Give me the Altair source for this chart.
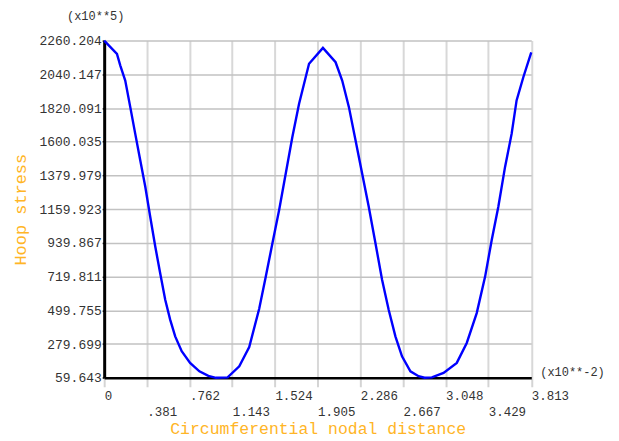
import altair as alt
import pandas as pd

# Curve (x in units of 1e-2, hoop stress in units of 1e5)
dist = [0.000, 0.114, 0.144, 0.188, 0.233, 0.277, 0.322, 0.367, 0.411, 0.456,
        0.500, 0.545, 0.589, 0.634, 0.692, 0.767, 0.850, 0.930, 0.998, 1.102,
        1.206, 1.295, 1.384, 1.443, 1.502, 1.562, 1.621, 1.680, 1.740, 1.829,
        1.953, 2.066, 2.125, 2.185, 2.244, 2.303, 2.362, 2.422, 2.481, 2.540,
        2.600, 2.659, 2.734, 2.807, 2.860, 2.926, 3.030, 3.148, 3.237, 3.326,
        3.401, 3.460, 3.519, 3.579, 3.638, 3.682, 3.742, 3.813]
stress = [2260.204, 2174, 2097, 1999, 1826, 1653, 1480, 1306, 1111, 916,
          742, 569, 439, 330, 233, 157, 102, 72, 59.643, 62,
          135, 260, 510, 720, 938, 1154, 1393, 1631, 1848, 2109,
          2213, 2119, 2000, 1826, 1610, 1393, 1176, 938, 699, 504,
          330, 200, 102, 70, 60, 62, 92, 157, 287, 482,
          720, 959, 1176, 1436, 1653, 1870, 2021, 2184]

x_ticks = [0, 0.381, 0.762, 1.143, 1.524, 1.905, 2.286, 2.667, 3.048, 3.429, 3.813]
x_labels = ["0", ".381", ".762", "1.143", "1.524", "1.905", "2.286", "2.667", "3.048", "3.429", "3.813"]
y_ticks = [59.643, 279.699, 499.755, 719.811, 939.867, 1159.923, 1379.979,
           1600.035, 1820.091, 2040.147, 2260.204]
x_title = "Circumferential nodal distance"
y_title = "Hoop stress"
y_mult = "(x10**5)"
x_mult = "(x10**-2)"

df = pd.DataFrame({"d": dist, "s": stress})

FONT = "Liberation Mono"
ORANGE = "#FFB526"

vals_js = "[" + ",".join(repr(v) for v in x_ticks) + "]"
labs_js = "[" + ",".join("'" + s + "'" for s in x_labels) + "]"
idx = f"indexof({vals_js}, datum.value)"
label_expr = f"{idx} % 2 == 1 ? ['', {labs_js}[{idx}]] : {labs_js}[{idx}]"

W, H = 428.5, 338.3

line = alt.Chart(df).mark_line(color="#0000FF", strokeWidth=2.4).encode(
    x=alt.X("d:Q",
            scale=alt.Scale(domain=[0, 3.813], nice=False, zero=False),
            axis=alt.Axis(values=x_ticks, labelExpr=label_expr, labelAlign="left",
                          labelBaseline="top", labelLineHeight=16, labelPadding=3,
                          labelOverlap=False, labelBound=False, labelFlush=False,
                          labelFont=FONT, labelFontSize=12.5, labelColor="#333333",
                          tickColor="#d4d4d4", tickWidth=2, tickSize=9,
                          gridColor="#d8d8d8", gridWidth=2,
                          domainColor="#000000", domainWidth=2.5,
                          title=x_title, titleFont=FONT, titleFontSize=16.5,
                          titleFontWeight="normal", titleColor=ORANGE,
                          titleY=51, titleBaseline="middle")),
    y=alt.Y("s:Q",
            scale=alt.Scale(domain=[59.643, 2260.204], nice=False, zero=False),
            axis=alt.Axis(values=y_ticks, format=".3f", labelAlign="right",
                          labelBaseline="middle", labelPadding=1,
                          labelOverlap=False, labelBound=False, labelFlush=False,
                          labelFont=FONT, labelFontSize=13, labelColor="#333333",
                          tickColor="#000000", tickWidth=1.5, tickSize=2,
                          gridColor="#c2c2c2", gridWidth=1.5,
                          domainColor="#000000", domainWidth=3,
                          title=y_title, titleFont=FONT, titleFontSize=17,
                          titleFontWeight="normal", titleColor=ORANGE,
                          titleX=-83.5, titleY=H / 2, titleAngle=-90,
                          titleBaseline="middle", titleAlign="center")),
)

ymult = alt.Chart(pd.DataFrame({"t": [y_mult]})).mark_text(
    font=FONT, fontSize=12, color="#333333", align="center", baseline="middle"
).encode(text="t:N", x=alt.value(-8.5), y=alt.value(-25))

xmult = alt.Chart(pd.DataFrame({"t": [x_mult]})).mark_text(
    font=FONT, fontSize=12, color="#333333", align="left", baseline="middle"
).encode(text="t:N", x=alt.value(437.5), y=alt.value(H - 6))

chart = alt.layer(line, ymult, xmult).properties(
    width=W, height=H,
    autosize=alt.AutoSizeParams(type="none"),
    padding={"left": 96.5, "top": 32, "right": 80, "bottom": 62},
    background="white",
).configure_view(strokeWidth=0)

chart.save("out.html", embed_options={"renderer": "svg", "actions": False})
